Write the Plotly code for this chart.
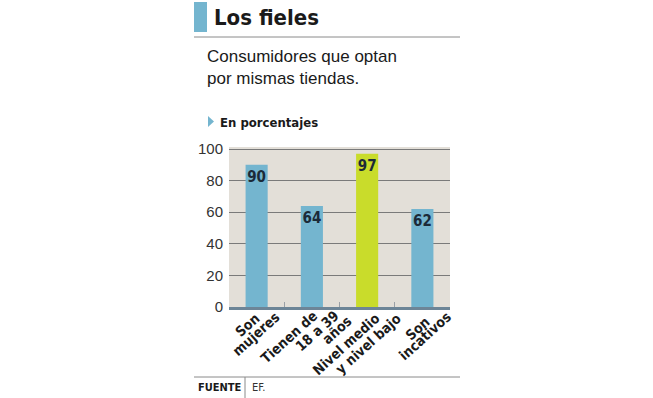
import plotly.graph_objects as go

categories = ["Son mujeres", "Tienen de 18 a 39 años", "Nivel medio y nivel bajo", "Son incativos"]
tick_label_lines = [["Son", "mujeres"], ["Tienen de", "18 a 39", "años"],
                    ["Nivel medio", "y nivel bajo"], ["Son", "incativos"]]
values = [90, 64, 97, 62]
bar_colors = ["#74b5cf", "#74b5cf", "#c9dc2b", "#74b5cf"]
y_ticks = [0, 20, 40, 60, 80, 100]

# layout: centre of each rotated label line (x shift px from category centre, y px)
LABEL_PLACE = [[(-9.5, 325), (-1, 333.5)], [(-23, 337), (5, 331), (25, 330)],
               [(-21, 344), (0.5, 343.5)], [(-4.5, 328), (2.5, 336)]]

W, H = 653, 398
L, R, T, B = 229, 450, 147, 307
YMAX = 101.3
COND = "DejaVu Sans Condensed, sans-serif"

def px(x):
    return (x - L) / (R - L)

def py(y):
    return (B - y) / (B - T)

fig = go.Figure()
fig.add_trace(go.Bar(
    x=categories, y=values,
    marker=dict(color=bar_colors, line=dict(width=0)),
    width=0.4,
    text=[str(v) for v in values],
    textposition="inside", insidetextanchor="end",
    constraintext="none",
    textfont=dict(family=COND, size=15, color="#1b2a38", weight="bold"),
    textangle=0,
    cliponaxis=False,
    hoverinfo="skip",
))

shapes = [
    dict(type="rect", xref="paper", yref="paper", x0=px(194), x1=px(207), y0=py(32), y1=py(2),
         fillcolor="#74b5cf", line=dict(width=0)),
    dict(type="line", xref="paper", yref="paper", x0=px(194), x1=px(460), y0=py(37), y1=py(37),
         line=dict(color="#8a8a8a", width=1)),
    dict(type="path", xref="paper", yref="paper",
         path=f"M {px(208)} {py(116)} L {px(214)} {py(121.5)} L {px(208)} {py(127)} Z",
         fillcolor="#74b5cf", line=dict(width=0)),
    dict(type="line", xref="paper", yref="paper", x0=px(194), x1=px(460), y0=py(377), y1=py(377),
         line=dict(color="#8a8a8a", width=1)),
    dict(type="line", xref="paper", yref="paper", x0=px(245), x1=px(245), y0=py(377), y1=py(398),
         line=dict(color="#8a8a8a", width=1)),
]

annotations = [
    dict(text="<b>Los fieles</b>", x=px(212), y=py(17), xref="paper", yref="paper",
         xanchor="left", yanchor="middle", showarrow=False,
         font=dict(family=COND, size=22, color="#1a1a1a")),
    dict(text="Consumidores que optan<br>por mismas tiendas.", x=px(205), y=py(67), xref="paper", yref="paper",
         xanchor="left", yanchor="middle", showarrow=False, align="left",
         font=dict(family="Liberation Sans", size=17, color="#1a1a1a")),
    dict(text="<b>En porcentajes</b>", x=px(218), y=py(122), xref="paper", yref="paper",
         xanchor="left", yanchor="middle", showarrow=False,
         font=dict(family=COND, size=13, color="#1a1a1a")),
    dict(text="<b>FUENTE</b>", x=px(196), y=py(387), xref="paper", yref="paper",
         xanchor="left", yanchor="middle", showarrow=False,
         font=dict(family=COND, size=11, color="#1a1a1a")),
    dict(text="EF.", x=px(250), y=py(387), xref="paper", yref="paper",
         xanchor="left", yanchor="middle", showarrow=False,
         font=dict(family=COND, size=11, color="#333333")),
]
for cat, lines, places in zip(categories, tick_label_lines, LABEL_PLACE):
    for line, (dx, cy) in zip(lines, places):
        annotations.append(dict(
            text=line, x=cat, xref="x", y=py(cy), yref="paper",
            xanchor="center", yanchor="middle", xshift=dx, showarrow=False,
            textangle=-42, borderpad=0,
            font=dict(family=COND, size=14, color="#1a1a1a", weight="bold"),
        ))

fig.update_layout(
    width=W, height=H,
    margin=dict(l=L, r=W - R, t=T, b=H - B, pad=0),
    paper_bgcolor="white", plot_bgcolor="#e3dfd8",
    showlegend=False, bargap=0.6,
    shapes=shapes, annotations=annotations,
    xaxis=dict(
        range=[-0.5, 3.5],
        tickson="boundaries", ticks="inside", ticklen=5, tickcolor="#9aa0a6",
        showline=True, linecolor="#6d8597", linewidth=3,
        showticklabels=False, automargin=False,
        showgrid=False, fixedrange=True,
    ),
    yaxis=dict(
        range=[0, YMAX], tickvals=y_ticks, ticks="", showline=False,
        gridcolor="#7a7a7a", gridwidth=1, zeroline=False, automargin=False,
        tickfont=dict(family="Liberation Sans", size=15, color="#333333"),
        ticklabelstandoff=5, fixedrange=True,
    ),
)

fig.write_html("out.html", config={"displayModeBar": False},
               post_script="document.body.style.margin='0';document.body.style.padding='0';")
